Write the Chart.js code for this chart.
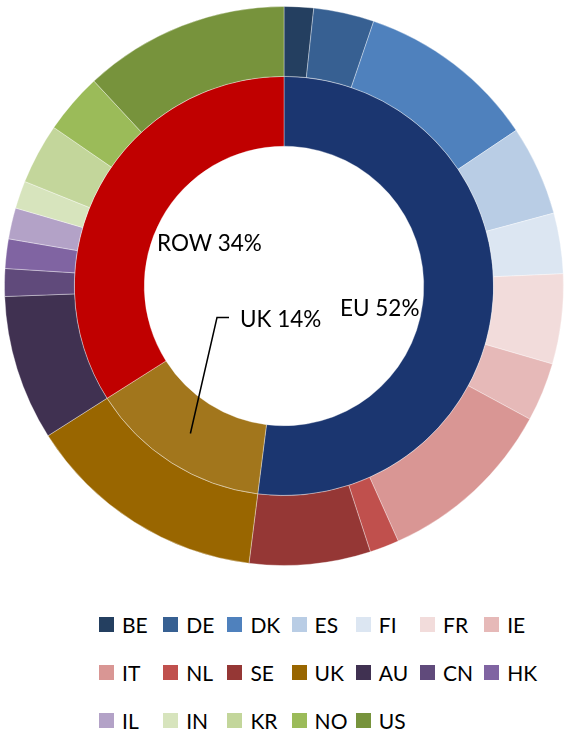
<!DOCTYPE html>
<html>
<head>
<meta charset="utf-8">
<script src="https://cdn.jsdelivr.net/npm/chart.js@4"></script>
<style>
  body { margin: 0; background: #fff; font-family: Lato, "Open Sans", sans-serif; }
  #wrap { position: relative; width: 566px; height: 735px; }
  #legend { position: absolute; left: 99px; top: 612px; width: 460px; }
  .item { position: absolute; display: flex; align-items: center; height: 24px; font-size: 21px; color: #000; white-space: nowrap; }
  .item span.box { width: 15px; height: 15px; margin-right: 8px; }
</style>
</head>
<body>
<div id="wrap">
  <canvas id="mixChart" width="566" height="572"></canvas>
  <div id="legend"></div>
</div>
<script>
// outer ring: country shares (%)
const countries = ['BE', 'DE', 'DK', 'ES', 'FI', 'FR', 'IE', 'IT', 'NL', 'SE',
                   'UK', 'AU', 'CN', 'HK', 'IL', 'IN', 'KR', 'NO', 'US'];
const countryShares = [1.7, 3.5, 10.4, 5.2, 3.5, 5.2, 3.4, 10.4, 1.7, 7.0,
                       14.0, 8.4, 1.6, 1.7, 1.8, 1.6, 3.5, 3.5, 11.9];
const countryColors = ['#243F60', '#376092', '#4F81BD', '#B9CDE5', '#DCE6F2', '#F2DCDB', '#E6B9B8',
                       '#D99694', '#C0504D', '#953735', '#996600', '#403151', '#604A7B', '#8064A2',
                       '#B3A2C7', '#D7E4BD', '#C3D69B', '#9BBB59', '#77933C'];

// inner ring: regions (%)
const regions = ['EU', 'UK', 'ROW'];
const regionShares = [52, 14, 34];
const regionColors = ['#1B3670', '#A2761C', '#C00000'];

// label placement inside the hole (left x, baseline y)
const regionLabelPos = [[340, 316], [240, 327], [157, 251]];

const regionLabels = {
  id: 'regionLabels',
  afterDatasetsDraw(chart) {
    const ctx = chart.ctx;
    const arcs = chart.getDatasetMeta(1).data;
    ctx.save();
    ctx.font = '22.5px Lato, "Open Sans", sans-serif';
    ctx.fillStyle = '#000';
    ctx.textAlign = 'left';
    ctx.textBaseline = 'alphabetic';
    regions.forEach((r, i) => {
      const [x, y] = regionLabelPos[i];
      ctx.fillText(r + ' ' + regionShares[i] + '%', x, y);
    });
    // leader line from UK label to its arc
    const p = arcs[1].getCenterPoint();
    const [ux, uy] = regionLabelPos[1];
    ctx.strokeStyle = '#000';
    ctx.lineWidth = 1.5;
    ctx.beginPath();
    ctx.moveTo(ux - 11, uy - 9.5);
    ctx.lineTo(ux - 23, uy - 9.5);
    ctx.lineTo(p.x, p.y);
    ctx.stroke();
    ctx.restore();
  }
};

const chart = new Chart(document.getElementById('mixChart'), {
  type: 'doughnut',
  data: {
    labels: countries,
    datasets: [{
      data: countryShares,
      backgroundColor: countryColors,
      borderColor: 'rgba(255,255,255,0.35)',
      borderWidth: 1
    }, {
      data: regionShares,
      backgroundColor: regionColors,
      borderColor: 'rgba(255,255,255,0.35)',
      borderWidth: 1
    }]
  },
  options: {
    responsive: false,
    animation: false,
    devicePixelRatio: 1,
    cutout: '50%',
    layout: { padding: { top: 6, bottom: 6, left: 2, right: 0 } },
    plugins: {
      legend: { display: false },
      tooltip: { enabled: false }
    }
  },
  plugins: [regionLabels]
});

// legend: 7 columns
const legend = document.getElementById('legend');
countries.forEach((c, i) => {
  const el = document.createElement('div');
  el.className = 'item';
  el.style.left = (i % 7) * 64.2 + 'px';
  el.style.top = Math.floor(i / 7) * 48 + 'px';
  el.innerHTML = '<span class="box" style="background:' + countryColors[i] + '"></span>' + c;
  legend.appendChild(el);
});
</script>
</body>
</html>
